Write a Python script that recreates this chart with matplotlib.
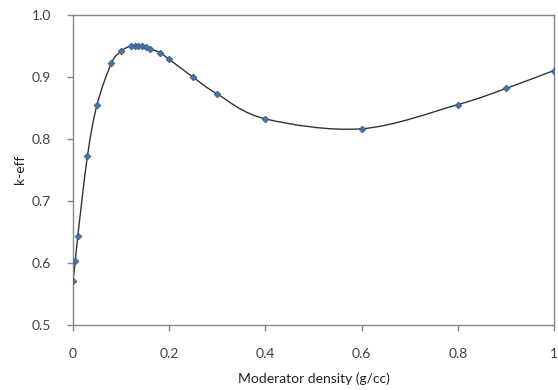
import matplotlib
matplotlib.use("Agg")
import matplotlib.pyplot as plt
import numpy as np
from matplotlib.path import Path
from matplotlib.patches import PathPatch

density = [0.0, 0.005, 0.01, 0.03, 0.05, 0.08, 0.10, 0.12, 0.128, 0.136, 0.144,
           0.152, 0.16, 0.18, 0.20, 0.25, 0.30, 0.40, 0.60, 0.80, 0.90, 1.0]
keff = [0.571, 0.603, 0.643, 0.772, 0.855, 0.922, 0.941, 0.950, 0.950, 0.950, 0.950,
        0.948, 0.945, 0.939, 0.928, 0.899, 0.872, 0.832, 0.816, 0.855, 0.881, 0.910]
x_ticks = [0, 0.2, 0.4, 0.6, 0.8, 1.0]
x_tick_labels = ["0", "0.2", "0.4", "0.6", "0.8", "1"]
y_ticks = [0.5, 0.6, 0.7, 0.8, 0.9, 1.0]

plt.rcParams["font.family"] = ["Lato", "DejaVu Sans"]

TEXT = "#404040"
SPINE = "#868686"


def smooth_path(xs, ys):
    """Excel-style smoothed line: cubic Bezier segments through every point."""
    pts = np.column_stack([xs, ys])
    n = len(pts)
    verts = [pts[0]]
    codes = [Path.MOVETO]
    for i in range(n - 1):
        p0 = pts[max(i - 1, 0)]
        p1 = pts[i]
        p2 = pts[i + 1]
        p3 = pts[min(i + 2, n - 1)]
        c1 = p1 + (p2 - p0) / 6.0
        c2 = p2 - (p3 - p1) / 6.0
        verts += [c1, c2, p2]
        codes += [Path.CURVE4] * 3
    return Path(verts, codes)


fig = plt.figure(figsize=(5.58, 3.9), dpi=100)
ax = fig.add_axes([73 / 558, 1 - 324.7 / 390, 481 / 558, 310 / 390])

ax.add_patch(PathPatch(smooth_path(density, keff), facecolor="none",
                       edgecolor="#333333", lw=1.0, zorder=2))
ax.plot(density, keff, linestyle="none", marker="D", markersize=3.4,
        markerfacecolor="#4A72A8", markeredgecolor="#3A5A88",
        markeredgewidth=0.6, zorder=3)

ax.set_xlim(0, 1)
ax.set_ylim(0.5, 1.0)
ax.set_xticks(x_ticks)
ax.set_xticklabels(x_tick_labels)
ax.set_yticks(y_ticks)
ax.set_yticklabels([f"{v:.1f}" for v in y_ticks])

for s in ax.spines.values():
    s.set_color(SPINE)
    s.set_linewidth(1.0)

ax.tick_params(axis="x", direction="out", length=4, width=1, color=SPINE,
               labelsize=10, labelcolor=TEXT, pad=13)
ax.tick_params(axis="y", direction="out", length=4, width=1, color=SPINE,
               labelsize=10, labelcolor=TEXT, pad=12)

ax.set_xlabel("Moderator density (g/cc)", fontsize=10, color="#222222", labelpad=9)
ax.set_ylabel("k-eff", fontsize=10, color="#222222", labelpad=4)

fig.savefig("out.png", dpi=100)
